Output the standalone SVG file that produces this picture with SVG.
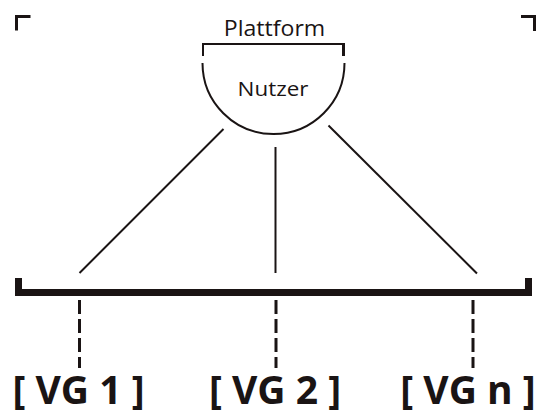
<svg xmlns="http://www.w3.org/2000/svg" width="538" height="414" viewBox="0 0 538 414">
  <style>
    .ln { fill: none; stroke: #1a1414; stroke-width: 2; }
    .mark { fill: none; stroke: #1a1414; stroke-width: 3; stroke-linecap: butt; stroke-linejoin: miter; }
    .dash { fill: none; stroke: #1a1414; stroke-width: 3; stroke-dasharray: 14 5; }
    .lbl { font-family: "Open Sans", "Noto Sans", sans-serif; font-size: 20px; fill: #1a1414; text-anchor: middle; }
    .vg { font-family: "Open Sans", "Noto Sans", sans-serif; font-size: 39px; font-weight: bold; fill: #1a1414; text-anchor: middle; }
  </style>
  <rect width="538" height="414" fill="#ffffff"/>

  <!-- crop marks -->
  <g id="corners">
    <path class="mark" d="M16.5 30.5 V16.5 H30.5"/>
    <path class="mark" d="M521 16.5 H534.5 V31"/>
  </g>

  <!-- platform bracket with user node -->
  <g id="plattform">
    <text class="lbl" style="font-size:21px" transform="translate(274.5 36) scale(1.1 1)">Plattform</text>
    <path class="ln" d="M203 56 V44 H343.5"/>
    <path class="ln" style="stroke-width:3" d="M343.5 43 V56"/>
  </g>
  <g id="nutzer">
    <path class="ln" d="M202.5 63 A71 71 0 0 0 344.5 63"/>
    <text class="lbl" transform="translate(273 96) scale(1.12 1)">Nutzer</text>
  </g>

  <!-- connectors -->
  <g id="connectors">
    <line class="ln" x1="223.5" y1="129" x2="79.5" y2="273"/>
    <line class="ln" x1="275.5" y1="147" x2="275.5" y2="273"/>
    <line class="ln" x1="328.5" y1="125.5" x2="477" y2="273.5"/>
    <line class="dash" x1="79.5" y1="300" x2="79.5" y2="368"/>
    <line class="dash" x1="276" y1="300" x2="276" y2="368"/>
    <line class="dash" x1="473" y1="300" x2="473" y2="368"/>
  </g>

  <!-- base bracket -->
  <g id="basis">
    <path fill="none" stroke="#1a1414" stroke-width="7" stroke-linejoin="miter" d="M18.5 278 V292.5 H528.5 V278"/>
  </g>

  <g id="vg1">
    <text class="vg" x="78.5" y="404">[ VG 1 ]</text>
  </g>
  <g id="vg2">
    <text class="vg" x="275" y="404">[ VG 2 ]</text>
  </g>
  <g id="vgn">
    <text class="vg" x="468" y="404">[ VG n ]</text>
  </g>
</svg>
